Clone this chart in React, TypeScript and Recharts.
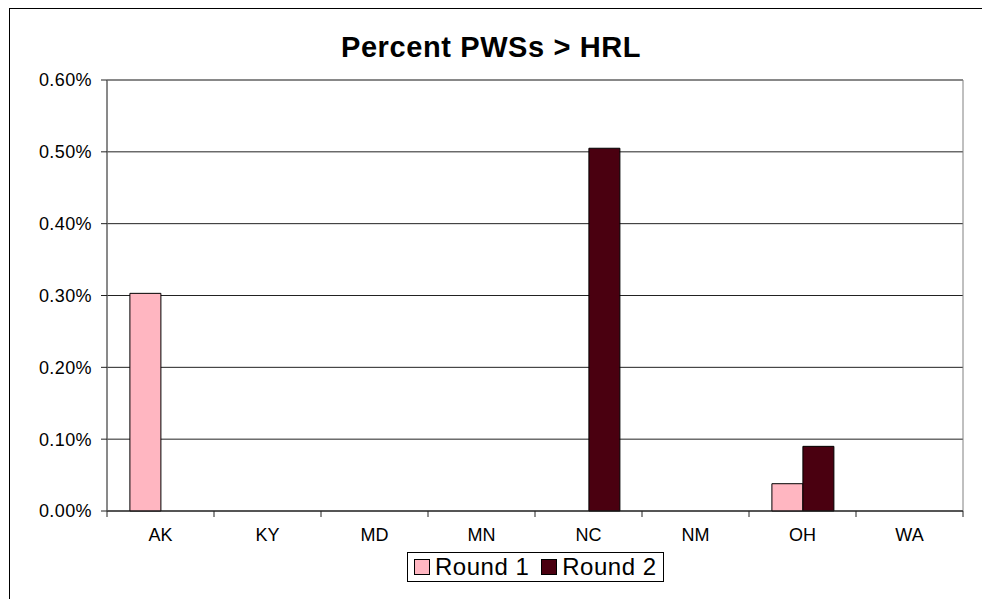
import { Bar, BarChart, CartesianGrid, Legend, ReferenceArea, XAxis, YAxis } from 'recharts'

const states = ['AK', 'KY', 'MD', 'MN', 'NC', 'NM', 'OH', 'WA']
const round1 = [0.303, 0, 0, 0, 0, 0, 0.038, 0]
const round2 = [0, 0, 0, 0, 0.505, 0, 0.09, 0]
const yTicks = [0, 0.1, 0.2, 0.3, 0.4, 0.5, 0.6]

const data = states.map((name, i) => ({ name, round1: round1[i], round2: round2[i] }))

const FONT = '"Liberation Sans", Arial, sans-serif'
const PINK = '#FFB6C1'
const MAROON = '#4A0010'

function StateTick(props: any) {
  const { x, y, payload, index } = props
  const half = payload && payload.offset ? payload.offset : 53.5
  return (
    <g>
      <line x1={x - half} y1={y} x2={x - half} y2={y + 6} stroke='#222' />
      {index === states.length - 1 && (
        <line x1={x + half} y1={y} x2={x + half} y2={y + 6} stroke='#222' />
      )}
      <text x={x} y={y + 17} dy='0.71em' textAnchor='middle' fontSize={18} fill='#000' fontFamily={FONT}>
        {payload.value}
      </text>
    </g>
  )
}

function LegendBox() {
  const item = (label: string, color: string, last: boolean) => (
    <span style={{ display: 'inline-flex', alignItems: 'center', marginRight: last ? 0 : 12 }}>
      <span
        style={{
          display: 'inline-block',
          width: 14,
          height: 14,
          background: color,
          border: '1px solid #000',
          marginRight: 5,
        }}
      />
      <span style={{ fontSize: 24, letterSpacing: 0.5 }}>{label}</span>
    </span>
  )
  return (
    <div
      style={{
        border: '1px solid #000',
        background: '#fff',
        padding: '0 6px',
        height: 30,
        boxSizing: 'border-box',
        fontFamily: FONT,
        lineHeight: '26px',
        whiteSpace: 'nowrap',
        display: 'inline-flex',
        alignItems: 'center',
      }}
    >
      {item('Round 1', PINK, false)}
      {item('Round 2', MAROON, true)}
    </div>
  )
}

export default function App() {
  return (
    <div style={{ position: 'fixed', left: 0, top: 0, width: 982, height: 599, overflow: 'hidden', background: '#fff' }}>
      <div
        style={{
          position: 'absolute',
          left: 9,
          top: 8,
          right: -10,
          bottom: -10,
          border: '1px solid #000',
        }}
      />
      <div
        style={{
          position: 'absolute',
          top: 31,
          left: 0,
          width: 982,
          textAlign: 'center',
          fontFamily: FONT,
          fontWeight: 'bold',
          fontSize: 29,
          letterSpacing: 0.6,
          lineHeight: '32px',
          color: '#000',
        }}
      >
        Percent PWSs &gt; HRL
      </div>
      <div style={{ position: 'absolute', left: 0, top: 0 }}>
        <BarChart
          width={982}
          height={599}
          data={data}
          margin={{ top: 80, right: 19, left: 0, bottom: 58 }}
          barCategoryGap='21.4%'
          barGap={0}
        >
          <CartesianGrid vertical={false} stroke='#222' />
          <ReferenceArea y1={0} y2={0.6} fill='none' stroke='#808080' ifOverflow='visible' />
          <XAxis
            dataKey='name'
            height={30}
            axisLine={{ stroke: '#222' }}
            tickLine={false}
            tickSize={0}
            tickMargin={0}
            interval={0}
            tick={<StateTick />}
          />
          <YAxis
            width={107}
            domain={[0, 0.6]}
            ticks={yTicks}
            interval={0}
            tickFormatter={(v: number) => v.toFixed(2) + '%'}
            axisLine={{ stroke: '#555' }}
            tickLine={{ stroke: '#222' }}
            tickSize={6}
            tickMargin={9}
            tick={{ fontSize: 18, fill: '#000', fontFamily: FONT, letterSpacing: 0.4 }}
          />
          <Legend
            layout='horizontal'
            verticalAlign='middle'
            align='center'
            wrapperStyle={{ position: 'absolute', top: 552, left: 407, width: 'auto' }}
            content={<LegendBox />}
          />
          <Bar dataKey='round1' name='Round 1' fill={PINK} stroke='#000' strokeWidth={1} isAnimationActive={false} />
          <Bar dataKey='round2' name='Round 2' fill={MAROON} stroke='#000' strokeWidth={1} isAnimationActive={false} />
        </BarChart>
      </div>
    </div>
  )
}
